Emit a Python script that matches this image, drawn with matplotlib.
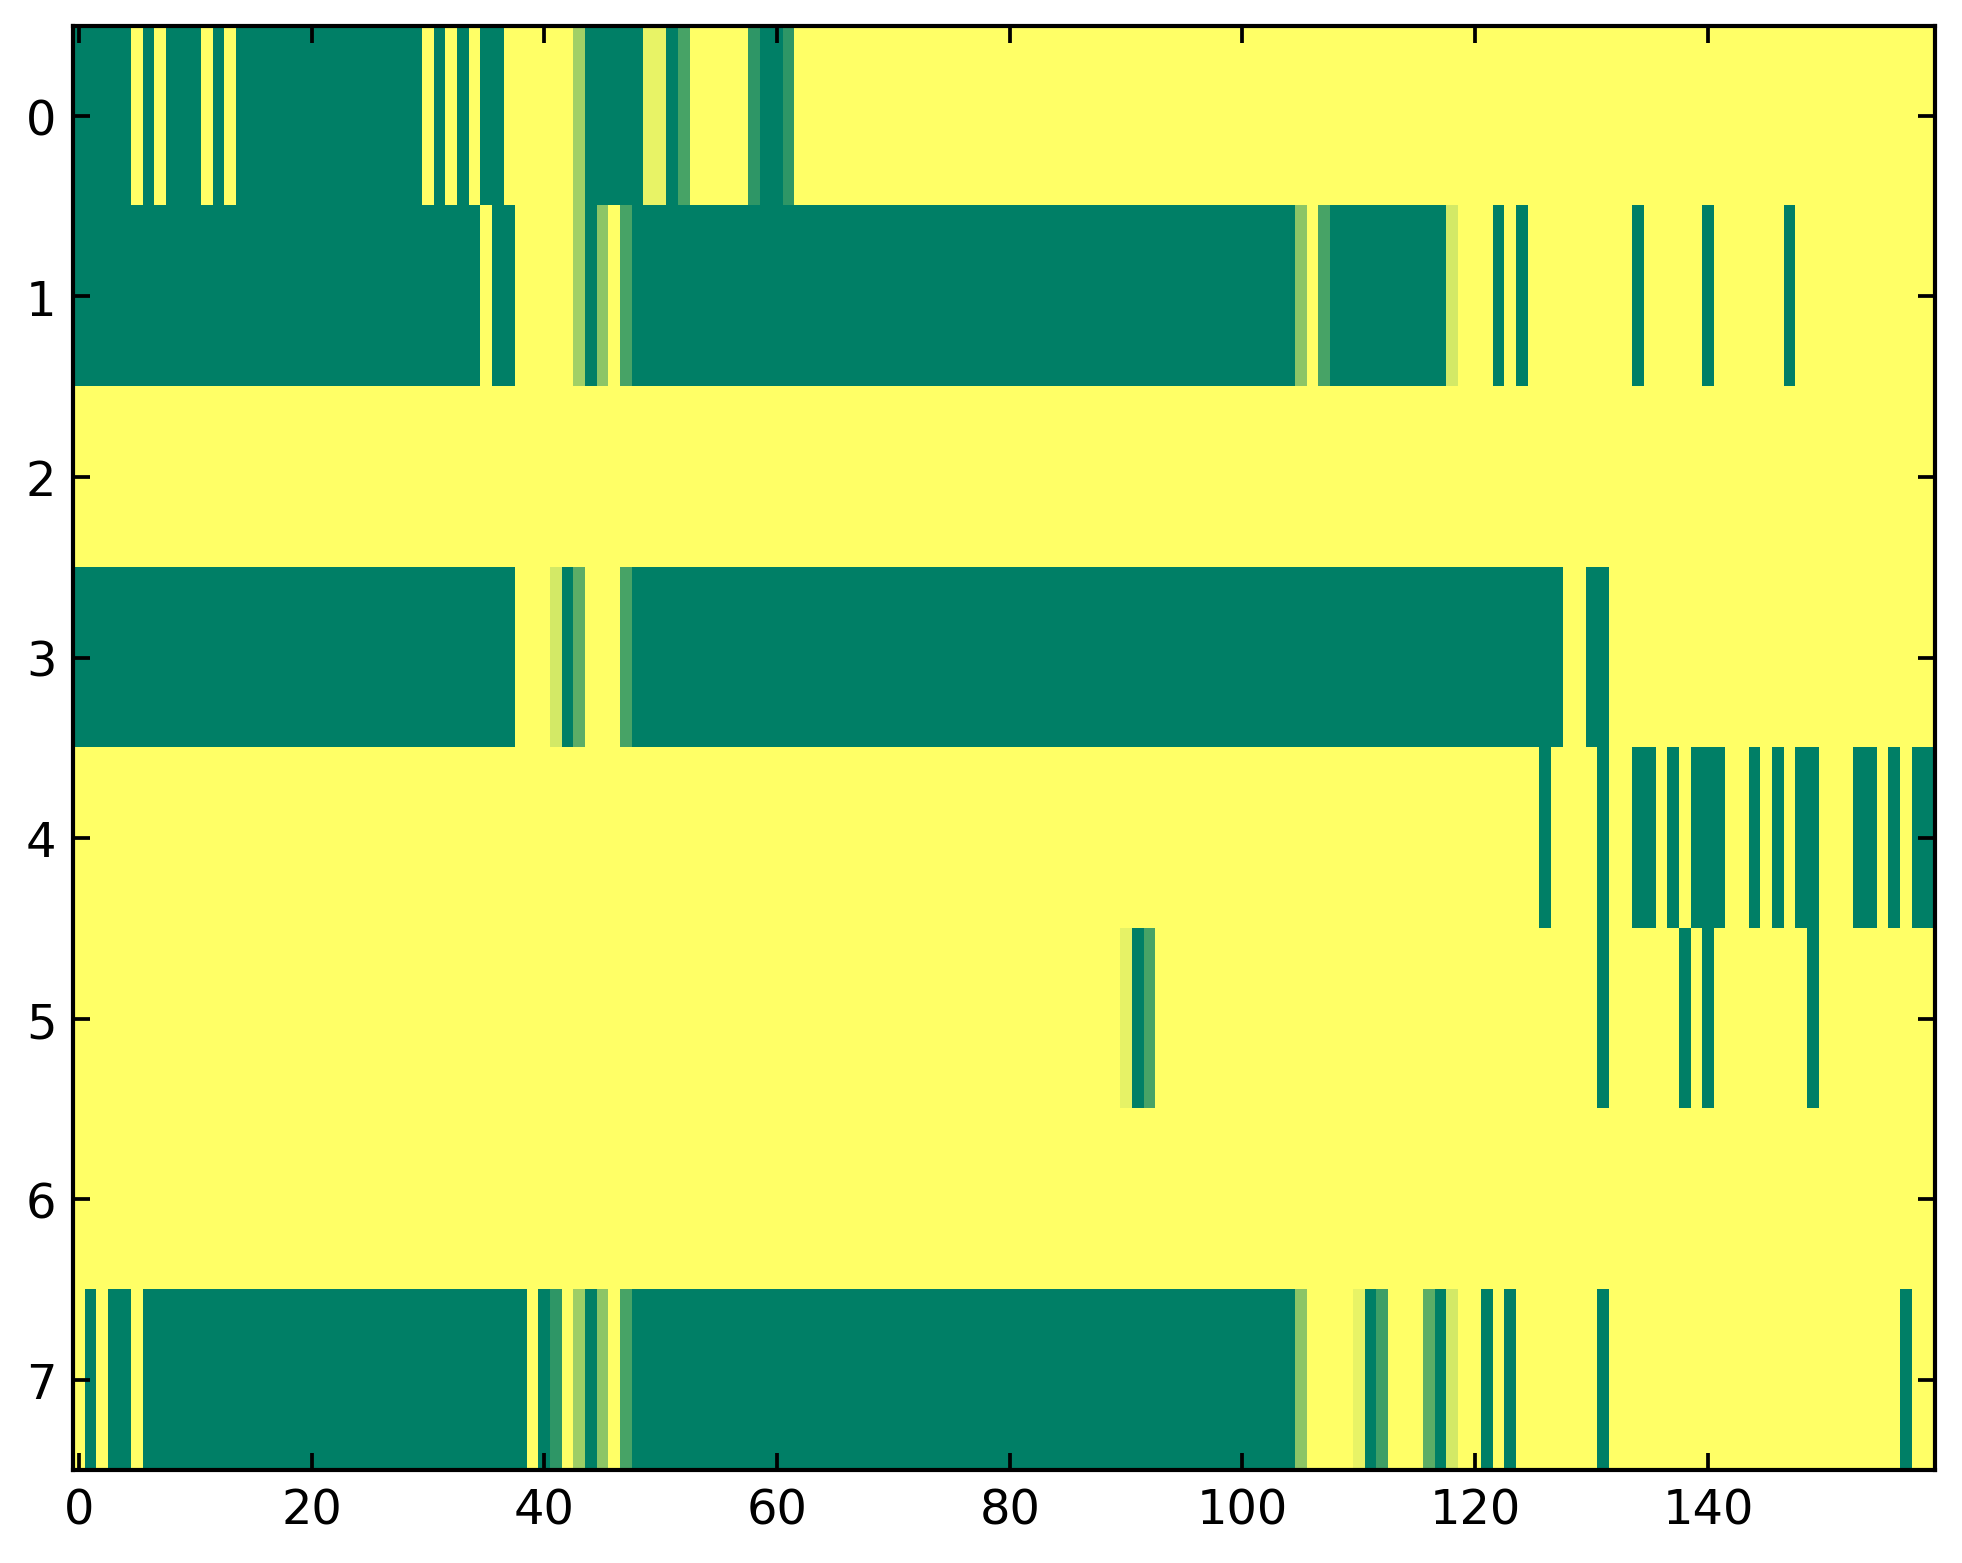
import matplotlib
matplotlib.use('Agg')
import matplotlib.pyplot as plt
import numpy as np

# one list per row, 160 columns each
row0 = [
    1, 1, 1, 1, 1, 0, 1, 0, 1, 1, 1, 0, 1, 0, 1, 1, 1, 1, 1, 1,
    1, 1, 1, 1, 1, 1, 1, 1, 1, 1, 0, 1, 0, 1, 0, 1, 1, 0, 0, 0,
    0, 0, 0, .37, 1, 1, 1, 1, 1, .09, .09, 1, .72, 0, 0, 0, 0, 0, .82, 1,
    1, .82, 0, 0, 0, 0, 0, 0, 0, 0, 0, 0, 0, 0, 0, 0, 0, 0, 0, 0,
    0, 0, 0, 0, 0, 0, 0, 0, 0, 0, 0, 0, 0, 0, 0, 0, 0, 0, 0, 0,
    0, 0, 0, 0, 0, 0, 0, 0, 0, 0, 0, 0, 0, 0, 0, 0, 0, 0, 0, 0,
    0, 0, 0, 0, 0, 0, 0, 0, 0, 0, 0, 0, 0, 0, 0, 0, 0, 0, 0, 0,
    0, 0, 0, 0, 0, 0, 0, 0, 0, 0, 0, 0, 0, 0, 0, 0, 0, 0, 0, 0,
]
row1 = [
    1, 1, 1, 1, 1, 1, 1, 1, 1, 1, 1, 1, 1, 1, 1, 1, 1, 1, 1, 1,
    1, 1, 1, 1, 1, 1, 1, 1, 1, 1, 1, 1, 1, 1, 1, 0, 1, 1, 0, 0,
    0, 0, 0, .37, 1, .45, 0, .72, 1, 1, 1, 1, 1, 1, 1, 1, 1, 1, 1, 1,
    1, 1, 1, 1, 1, 1, 1, 1, 1, 1, 1, 1, 1, 1, 1, 1, 1, 1, 1, 1,
    1, 1, 1, 1, 1, 1, 1, 1, 1, 1, 1, 1, 1, 1, 1, 1, 1, 1, 1, 1,
    1, 1, 1, 1, 1, .45, 0, .72, 1, 1, 1, 1, 1, 1, 1, 1, 1, 1, .17, 0,
    0, 0, 1, 0, 1, 0, 0, 0, 0, 0, 0, 0, 0, 0, 1, 0, 0, 0, 0, 0,
    1, 0, 0, 0, 0, 0, 0, 1, 0, 0, 0, 0, 0, 0, 0, 0, 0, 0, 0, 0,
]
row2 = [
    0, 0, 0, 0, 0, 0, 0, 0, 0, 0, 0, 0, 0, 0, 0, 0, 0, 0, 0, 0,
    0, 0, 0, 0, 0, 0, 0, 0, 0, 0, 0, 0, 0, 0, 0, 0, 0, 0, 0, 0,
    0, 0, 0, 0, 0, 0, 0, 0, 0, 0, 0, 0, 0, 0, 0, 0, 0, 0, 0, 0,
    0, 0, 0, 0, 0, 0, 0, 0, 0, 0, 0, 0, 0, 0, 0, 0, 0, 0, 0, 0,
    0, 0, 0, 0, 0, 0, 0, 0, 0, 0, 0, 0, 0, 0, 0, 0, 0, 0, 0, 0,
    0, 0, 0, 0, 0, 0, 0, 0, 0, 0, 0, 0, 0, 0, 0, 0, 0, 0, 0, 0,
    0, 0, 0, 0, 0, 0, 0, 0, 0, 0, 0, 0, 0, 0, 0, 0, 0, 0, 0, 0,
    0, 0, 0, 0, 0, 0, 0, 0, 0, 0, 0, 0, 0, 0, 0, 0, 0, 0, 0, 0,
]
row3 = [
    1, 1, 1, 1, 1, 1, 1, 1, 1, 1, 1, 1, 1, 1, 1, 1, 1, 1, 1, 1,
    1, 1, 1, 1, 1, 1, 1, 1, 1, 1, 1, 1, 1, 1, 1, 1, 1, 1, 0, 0,
    0, .17, 1, .64, 0, 0, 0, .72, 1, 1, 1, 1, 1, 1, 1, 1, 1, 1, 1, 1,
    1, 1, 1, 1, 1, 1, 1, 1, 1, 1, 1, 1, 1, 1, 1, 1, 1, 1, 1, 1,
    1, 1, 1, 1, 1, 1, 1, 1, 1, 1, 1, 1, 1, 1, 1, 1, 1, 1, 1, 1,
    1, 1, 1, 1, 1, 1, 1, 1, 1, 1, 1, 1, 1, 1, 1, 1, 1, 1, 1, 1,
    1, 1, 1, 1, 1, 1, 1, 1, 0, 0, 1, 1, 0, 0, 0, 0, 0, 0, 0, 0,
    0, 0, 0, 0, 0, 0, 0, 0, 0, 0, 0, 0, 0, 0, 0, 0, 0, 0, 0, 0,
]
row4 = [
    0, 0, 0, 0, 0, 0, 0, 0, 0, 0, 0, 0, 0, 0, 0, 0, 0, 0, 0, 0,
    0, 0, 0, 0, 0, 0, 0, 0, 0, 0, 0, 0, 0, 0, 0, 0, 0, 0, 0, 0,
    0, 0, 0, 0, 0, 0, 0, 0, 0, 0, 0, 0, 0, 0, 0, 0, 0, 0, 0, 0,
    0, 0, 0, 0, 0, 0, 0, 0, 0, 0, 0, 0, 0, 0, 0, 0, 0, 0, 0, 0,
    0, 0, 0, 0, 0, 0, 0, 0, 0, 0, 0, 0, 0, 0, 0, 0, 0, 0, 0, 0,
    0, 0, 0, 0, 0, 0, 0, 0, 0, 0, 0, 0, 0, 0, 0, 0, 0, 0, 0, 0,
    0, 0, 0, 0, 0, 0, 1, 0, 0, 0, 0, 1, 0, 0, 1, 1, 0, 1, 0, 1,
    1, 1, 0, 0, 1, 0, 1, 0, 1, 1, 0, 0, 0, 1, 1, 0, 1, 0, 1, 1,
]
row5 = [
    0, 0, 0, 0, 0, 0, 0, 0, 0, 0, 0, 0, 0, 0, 0, 0, 0, 0, 0, 0,
    0, 0, 0, 0, 0, 0, 0, 0, 0, 0, 0, 0, 0, 0, 0, 0, 0, 0, 0, 0,
    0, 0, 0, 0, 0, 0, 0, 0, 0, 0, 0, 0, 0, 0, 0, 0, 0, 0, 0, 0,
    0, 0, 0, 0, 0, 0, 0, 0, 0, 0, 0, 0, 0, 0, 0, 0, 0, 0, 0, 0,
    0, 0, 0, 0, 0, 0, 0, 0, 0, 0, .1, 1, .72, 0, 0, 0, 0, 0, 0, 0,
    0, 0, 0, 0, 0, 0, 0, 0, 0, 0, 0, 0, 0, 0, 0, 0, 0, 0, 0, 0,
    0, 0, 0, 0, 0, 0, 0, 0, 0, 0, 0, 1, 0, 0, 0, 0, 0, 0, 1, 0,
    1, 0, 0, 0, 0, 0, 0, 0, 0, 1, 0, 0, 0, 0, 0, 0, 0, 0, 0, 0,
]
row6 = [
    0, 0, 0, 0, 0, 0, 0, 0, 0, 0, 0, 0, 0, 0, 0, 0, 0, 0, 0, 0,
    0, 0, 0, 0, 0, 0, 0, 0, 0, 0, 0, 0, 0, 0, 0, 0, 0, 0, 0, 0,
    0, 0, 0, 0, 0, 0, 0, 0, 0, 0, 0, 0, 0, 0, 0, 0, 0, 0, 0, 0,
    0, 0, 0, 0, 0, 0, 0, 0, 0, 0, 0, 0, 0, 0, 0, 0, 0, 0, 0, 0,
    0, 0, 0, 0, 0, 0, 0, 0, 0, 0, 0, 0, 0, 0, 0, 0, 0, 0, 0, 0,
    0, 0, 0, 0, 0, 0, 0, 0, 0, 0, 0, 0, 0, 0, 0, 0, 0, 0, 0, 0,
    0, 0, 0, 0, 0, 0, 0, 0, 0, 0, 0, 0, 0, 0, 0, 0, 0, 0, 0, 0,
    0, 0, 0, 0, 0, 0, 0, 0, 0, 0, 0, 0, 0, 0, 0, 0, 0, 0, 0, 0,
]
row7 = [
    0, 1, 0, 1, 1, 0, 1, 1, 1, 1, 1, 1, 1, 1, 1, 1, 1, 1, 1, 1,
    1, 1, 1, 1, 1, 1, 1, 1, 1, 1, 1, 1, 1, 1, 1, 1, 1, 1, 1, 0,
    1, .82, 0, .38, 1, .45, 0, .72, 1, 1, 1, 1, 1, 1, 1, 1, 1, 1, 1, 1,
    1, 1, 1, 1, 1, 1, 1, 1, 1, 1, 1, 1, 1, 1, 1, 1, 1, 1, 1, 1,
    1, 1, 1, 1, 1, 1, 1, 1, 1, 1, 1, 1, 1, 1, 1, 1, 1, 1, 1, 1,
    1, 1, 1, 1, 1, .45, 0, 0, 0, 0, .09, 1, .75, 0, 0, 0, .64, 1, .17, 0,
    0, 1, 0, 1, 0, 0, 0, 0, 0, 0, 0, 1, 0, 0, 0, 0, 0, 0, 0, 0,
    0, 0, 0, 0, 0, 0, 0, 0, 0, 0, 0, 0, 0, 0, 0, 0, 0, 1, 0, 0,
]

xticks = [0, 20, 40, 60, 80, 100, 120, 140]
yticks = [0, 1, 2, 3, 4, 5, 6, 7]

data = np.array([row0, row1, row2, row3, row4, row5, row6, row7], dtype=float)

fig = plt.figure(figsize=(6.543, 5.213), dpi=300)
ax = fig.add_axes([0.0372, 0.0595, 0.9485, 0.9235])
ax.imshow(data, cmap='summer_r', vmin=0, vmax=1, aspect='auto',
          interpolation='nearest')

ax.set_xticks(xticks)
ax.set_yticks(yticks)
ax.tick_params(direction='in', top=True, right=True, length=4, width=0.9,
               labelsize=11.5, pad=4)
for s in ax.spines.values():
    s.set_linewidth(1.0)

fig.savefig('out.png', dpi=300)
